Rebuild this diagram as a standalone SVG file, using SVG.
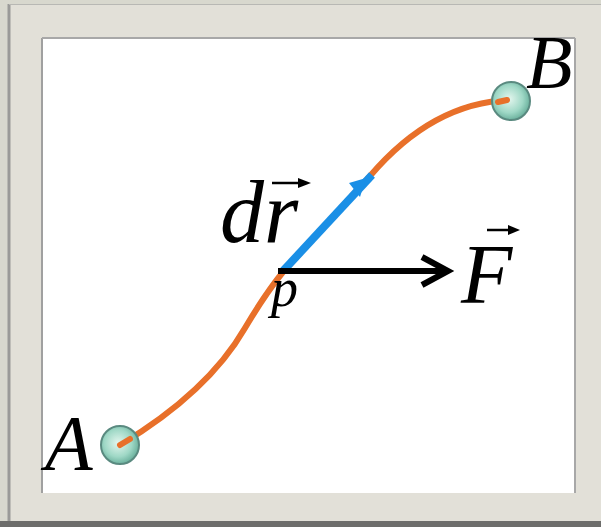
<svg xmlns="http://www.w3.org/2000/svg" width="601" height="527" viewBox="0 0 601 527">
<defs>
<radialGradient id="ball" cx="0.45" cy="0.45" r="0.6">
<stop offset="0" stop-color="#e4f6ee"/>
<stop offset="0.6" stop-color="#9fd8c6"/>
<stop offset="1" stop-color="#5fa894"/>
</radialGradient>
</defs>
<style>
.lbl{font-family:"Liberation Serif","Times New Roman",serif;font-style:italic;fill:#000}
</style>
<rect x="0" y="0" width="601" height="527" fill="#d8d8ce"/>
<rect x="9" y="4" width="600" height="518" fill="#e2e0d8"/>
<line x1="9" y1="4" x2="9" y2="522" stroke="#9a9a98" stroke-width="3"/>
<line x1="9" y1="4.5" x2="601" y2="4.5" stroke="#b8b8b4" stroke-width="1"/>
<rect x="0" y="521" width="601" height="6" fill="#6d6d6b"/>
<rect x="42" y="38" width="533" height="455" fill="#ffffff"/>
<line x1="42" y1="38" x2="42" y2="493" stroke="#a0a0a0" stroke-width="2"/>
<line x1="42" y1="38" x2="575" y2="38" stroke="#a8a8a8" stroke-width="2"/>
<line x1="575" y1="38" x2="575" y2="493" stroke="#a8a8a8" stroke-width="2"/>
<g id="connectors">
<path d="M120,445 C165,418 215,380 245,328 C258,306 270,288 283,272 L370,176 C405,135 450,102 510,100" fill="none" stroke="#e8702a" stroke-width="6" stroke-linecap="round"/>
<line x1="283" y1="271" x2="372" y2="175" stroke="#1a8fe6" stroke-width="8"/>
<path d="M349,183 L366,178 L360,197 z" fill="#1a8fe6"/>
<line x1="278" y1="271" x2="448" y2="271" stroke="#000" stroke-width="6"/>
<path d="M422,257 L448,271 L422,285" fill="none" stroke="#000" stroke-width="6" stroke-linejoin="miter"/>
</g>
<g id="nodeA">
<circle cx="120" cy="445" r="19" fill="url(#ball)" stroke="#5a8a80" stroke-width="2"/>
<line x1="120" y1="445" x2="130" y2="439" stroke="#e8702a" stroke-width="6" stroke-linecap="round"/>
<text class="lbl" x="45" y="469" font-size="78">A</text>
</g>
<g id="nodeB">
<circle cx="511" cy="101" r="19" fill="url(#ball)" stroke="#5a8a80" stroke-width="2"/>
<line x1="498" y1="102" x2="507" y2="100" stroke="#e8702a" stroke-width="6" stroke-linecap="round"/>
<text class="lbl" x="526" y="88" font-size="76">B</text>
</g>
<g id="labelDr">
<text class="lbl" x="220" y="242" font-size="88">dr</text>
<line x1="272" y1="183" x2="304" y2="183" stroke="#000" stroke-width="2.5"/>
<path d="M298,178 L311,183 L298,188 z" fill="#000"/>
</g>
<g id="labelF">
<text class="lbl" x="461" y="303" font-size="84">F</text>
<line x1="487" y1="230" x2="514" y2="230" stroke="#000" stroke-width="2.5"/>
<path d="M508,225 L520,230 L508,235 z" fill="#000"/>
</g>
<g id="labelP">
<text class="lbl" x="271" y="306" font-size="54">p</text>
</g>
</svg>
